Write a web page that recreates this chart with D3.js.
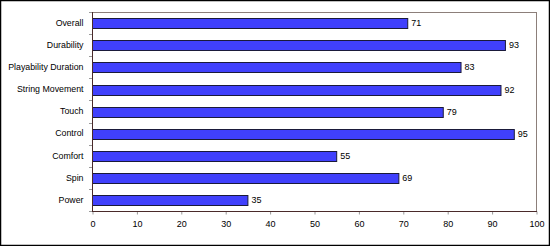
<!DOCTYPE html>
<html lang="en">
<head>
<meta charset="UTF-8">
<title>Ratings</title>
<script src="https://d3js.org/d3.v7.min.js"></script>
<style>
    body { margin: 0; background: #fff; }
    .cat-label { font: 8.8px "Liberation Sans", Arial, sans-serif; fill: #000; }
    .val-label { font: 9px "Liberation Sans", Arial, sans-serif; fill: #000; }
    .tick-label { font: 9px "Liberation Sans", Arial, sans-serif; fill: #000; }
</style>
</head>
<body>
<div id="chart"></div>
<script>
    const categories = ["Overall", "Durability", "Playability Duration", "String Movement", "Touch", "Control", "Comfort", "Spin", "Power"];
    const values = [71, 93, 83, 92, 79, 95, 55, 69, 35];
    const xTicks = [0, 10, 20, 30, 40, 50, 60, 70, 80, 90, 100];

    const W = 550, H = 246;
    const plot = {left: 92, right: 536, top: 12, bottom: 211};

    const svg = d3.select("#chart").append("svg")
        .attr("width", W)
        .attr("height", H);

    // outer frame
    svg.append("rect")
        .attr("x", 0.5).attr("y", 0.5)
        .attr("width", W - 1).attr("height", H - 1)
        .attr("fill", "#fff")
        .attr("stroke", "#000")
        .attr("stroke-width", 1.5);

    const x = d3.scaleLinear().domain([0, 100]).range([plot.left, plot.right]);
    const y = d3.scaleBand().domain(categories).range([plot.top, plot.bottom]).paddingInner(0.56).paddingOuter(0.28);
    const yStep = d3.scaleBand().domain(categories).range([plot.top, plot.bottom]);

    // plot area border (top/right)
    svg.append("rect")
        .attr("x", plot.left + 0.5).attr("y", plot.top + 0.5)
        .attr("width", plot.right - plot.left).attr("height", plot.bottom - plot.top)
        .attr("fill", "none")
        .attr("stroke", "#8c7f7a");

    // bars
    svg.selectAll(".bar")
        .data(values)
        .join("rect")
        .attr("class", "bar")
        .attr("x", x(0) + 0.5)
        .attr("y", (d, i) => Math.round(y(categories[i])) + 0.5)
        .attr("width", d => x(d) - x(0))
        .attr("height", Math.round(y.bandwidth()))
        .attr("fill", "#4040fc")
        .attr("stroke", "#1a1a3a");

    // value labels
    svg.selectAll(".val-label")
        .data(values)
        .join("text")
        .attr("class", "val-label")
        .attr("x", d => x(d) + 4)
        .attr("y", (d, i) => y(categories[i]) + y.bandwidth() / 2)
        .attr("dy", "0.35em")
        .text(d => d);

    // y axis (category labels + ticks between bands)
    svg.append("g")
        .attr("transform", `translate(${plot.left + 0.5},0)`)
        .call(d3.axisLeft(yStep).tickSize(0).tickPadding(9).tickFormat(d => d))
        .call(g => g.select(".domain").remove())
        .call(g => g.selectAll("text")
            .attr("class", "cat-label")
            .attr("fill", null)
            .attr("y", d => y(d) + y.bandwidth() / 2 - yStep(d) - yStep.bandwidth() / 2));

    const bounds = d3.range(categories.length + 1).map(i => plot.top + i * yStep.step());
    svg.selectAll(".ytick")
        .data(bounds)
        .join("line")
        .attr("class", "ytick")
        .attr("x1", plot.left - 3).attr("x2", plot.left)
        .attr("y1", d => Math.round(d) + 0.5).attr("y2", d => Math.round(d) + 0.5)
        .attr("stroke", "#999");

    // x axis
    const xAxis = svg.append("g")
        .attr("transform", `translate(0.5,${plot.bottom + 0.5})`)
        .call(d3.axisBottom(x).tickValues(xTicks).tickSize(3).tickPadding(6).tickSizeOuter(0));
    xAxis.select(".domain").remove();
    xAxis.selectAll("line").attr("stroke", "#999");
    xAxis.selectAll("text").attr("class", "tick-label").attr("fill", null);

    // left and bottom axis lines
    svg.append("line")
        .attr("x1", plot.left + 0.5).attr("x2", plot.left + 0.5)
        .attr("y1", plot.top).attr("y2", plot.bottom + 1)
        .attr("stroke", "#4a2a2a");
    svg.append("line")
        .attr("x1", plot.left).attr("x2", plot.right + 1)
        .attr("y1", plot.bottom + 0.5).attr("y2", plot.bottom + 0.5)
        .attr("stroke", "#4a2a2a");
</script>
</body>
</html>
